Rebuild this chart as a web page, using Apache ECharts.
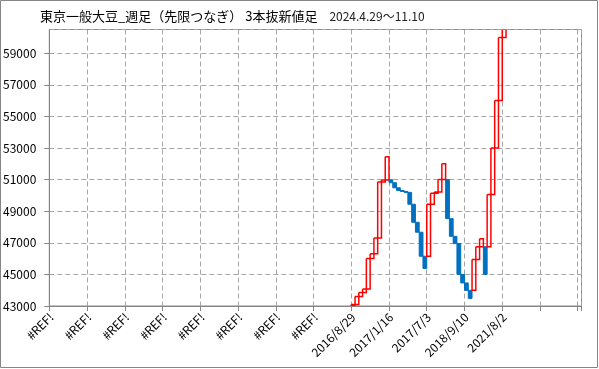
<!DOCTYPE html>
<html>
<head>
<meta charset="utf-8">
<script src="https://cdn.jsdelivr.net/npm/echarts@6/dist/echarts.min.js"></script>
<style>
html,body{margin:0;padding:0;background:#fff;}
#chart{width:599px;height:369px;}
</style>
</head>
<body>
<div id="chart"></div>
<script>
// ---- data ----
const titleMain = '東京一般大豆_週足（先限つなぎ） 3本抜新値足';
const titlePeriod = '2024.4.29～11.10';
const tickLabels = ['#REF!','#REF!','#REF!','#REF!','#REF!','#REF!','#REF!','#REF!',
  '2016/8/29','2017/1/16','2017/7/3','2018/9/10','2021/8/2','',''];
const barsPerTick = 10;
const totalBars = 141;
const firstBrick = 80;
const brickOpen = [
  42980,43100,43600,43850,44070,46000,46300,47300,50850,50980,
  50990,50800,50480,50310,50250,50190,49440,48300,47670,46150,
  46150,49440,50130,50220,51000,
  51000,48530,47410,46950,45000,44460,43990,
  43990,45950,46750,
  46750,
  46750,50050,53000,56000,60000
];
const brickClose = [
  43100,43600,43850,44070,46000,46300,47300,50850,50980,52450,
  50800,50480,50310,50250,50190,49440,48300,47670,46150,45380,
  49440,50130,50220,51000,52000,
  48530,47410,46950,45000,44460,43990,43480,
  45950,46750,47250,
  45000,
  50050,53000,56000,60000,61000
];
const yMin = 43000, yMax = 60500, yStep = 2000;

// ---- build ----
const categories = [];
for (let i = 0; i < totalBars; i++) categories.push(String(i));
const brickData = brickOpen.map((o, k) => [firstBrick + k, o, brickClose[k]]);

const FONT = 'Noto Sans CJK JP';
const gridColor = '#a6a6a6';
const axisColor = '#868686';
const upColor = '#ff0000';
const downColor = '#0070c0';

function renderBrick(params, api) {
  const idx = api.value(0);
  const o = api.value(1);
  const c = api.value(2);
  const p1 = api.coord([idx, o]);
  const p2 = api.coord([idx, c]);
  const w = api.size([1, 0])[0];
  const up = c > o;
  const rect = {
    x: p1[0] - w / 2,
    y: Math.min(p1[1], p2[1]),
    width: w,
    height: Math.abs(p2[1] - p1[1])
  };
  const cs = params.coordSys;
  const clipped = echarts.graphic.clipRectByRect(rect, { x: cs.x, y: cs.y, width: cs.width, height: cs.height });
  if (!clipped) return null;
  const cutTop = rect.y < cs.y;
  if (up) {
    // hollow red box; if cut at the top, draw it as an open outline
    const x0 = clipped.x, x1 = clipped.x + clipped.width;
    const y0 = clipped.y, y1 = clipped.y + clipped.height;
    const pts = cutTop
      ? [[x0, y0], [x0, y1], [x1, y1], [x1, y0]]
      : [[x0, y0], [x0, y1], [x1, y1], [x1, y0], [x0, y0]];
    return {
      type: 'polyline',
      shape: { points: pts },
      style: { stroke: upColor, lineWidth: 1.5, fill: null }
    };
  }
  return {
    type: 'rect',
    shape: clipped,
    style: { fill: downColor, stroke: downColor, lineWidth: 1 }
  };
}

const chart = echarts.init(document.getElementById('chart'));
chart.setOption({
  animation: false,
  backgroundColor: '#fff',
  title: {
    text: '{a|' + titleMain + '}{b|　' + titlePeriod + '}',
    left: 40, top: 10, padding: 0,
    textStyle: {
      rich: {
        a: { fontSize: 13, fontFamily: FONT, color: '#000', fontWeight: 'normal' },
        b: { fontSize: 12, fontFamily: FONT, color: '#222', fontWeight: 'normal' }
      }
    }
  },
  graphic: [{
    type: 'rect', silent: true, z: 100,
    shape: { x: 0.5, y: 0.5, width: 597, height: 367 },
    style: { fill: 'none', stroke: axisColor, lineWidth: 1 }
  }],
  grid: {
    left: 48, right: 17.5, top: 29.5, bottom: 63,
    show: true, borderColor: axisColor, borderWidth: 1, backgroundColor: 'transparent'
  },
  xAxis: {
    type: 'category',
    data: categories,
    boundaryGap: true,
    axisLine: { show: true, lineStyle: { color: axisColor, width: 1 } },
    axisTick: { show: true, interval: barsPerTick - 1, length: 5, lineStyle: { color: axisColor } },
    axisLabel: {
      interval: barsPerTick - 1,
      rotate: 45,
      margin: 9,
      fontSize: 12,
      fontFamily: FONT,
      color: '#000',
      formatter: function (v, idx) {
        const t = Math.round(idx / barsPerTick);
        return tickLabels[t] || '';
      }
    },
    splitLine: { show: true, interval: barsPerTick - 1, lineStyle: { color: gridColor, type: [5, 3], width: 1 } }
  },
  yAxis: {
    type: 'value',
    min: yMin, max: yMax, interval: yStep,
    axisLine: { show: true, lineStyle: { color: axisColor, width: 1 } },
    axisTick: { show: true, length: 5, lineStyle: { color: axisColor } },
    axisLabel: {
      showMaxLabel: false,
      margin: 13,
      fontSize: 12,
      fontFamily: FONT,
      color: '#000',
      formatter: function (v) { return String(v); }
    },
    splitLine: { show: true, lineStyle: { color: gridColor, type: [5, 3], width: 1 } }
  },
  series: [{
    type: 'custom',
    renderItem: renderBrick,
    data: brickData,
    encode: { x: 0, y: [1, 2] },
    clip: true
  }]
});
</script>
</body>
</html>
